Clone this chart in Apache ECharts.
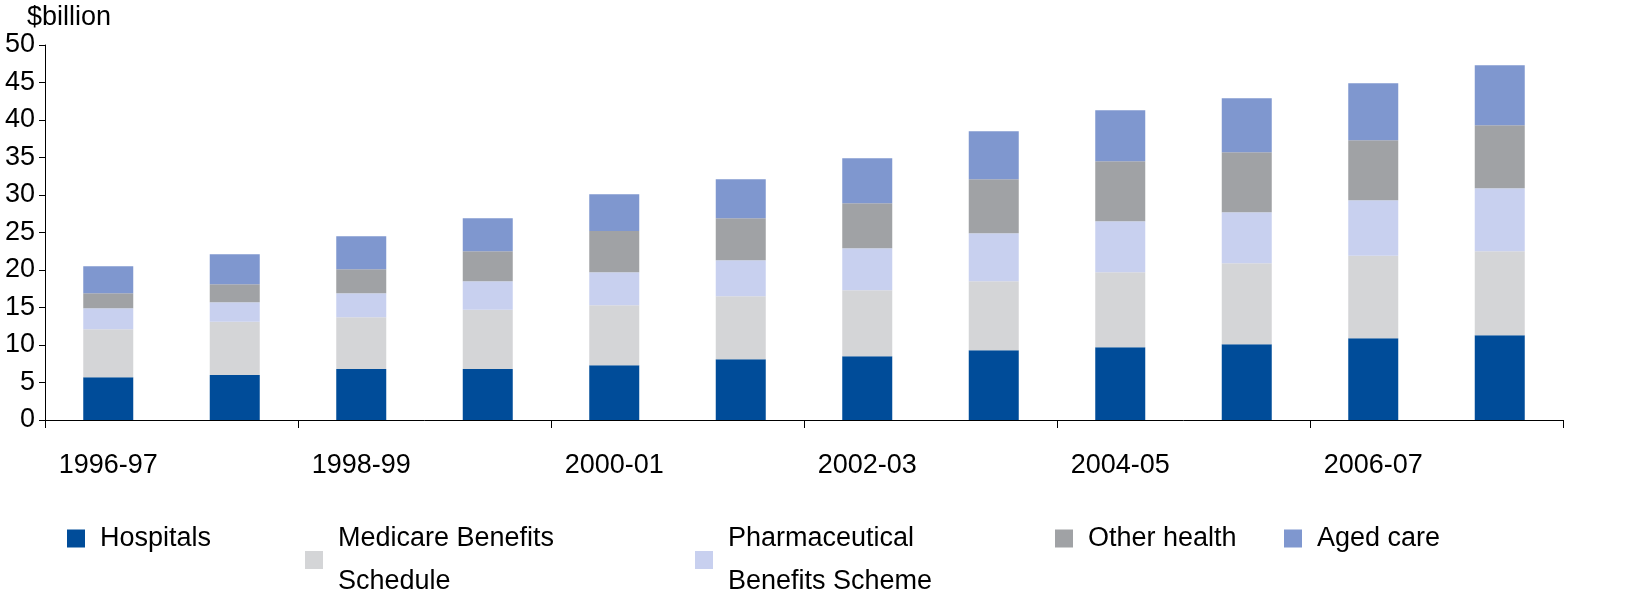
<!DOCTYPE html>
<html><head><meta charset="utf-8">
<script src="https://cdn.jsdelivr.net/npm/echarts@6/dist/echarts.min.js"></script>
<style>html,body{margin:0;background:#fff}#c{width:1627px;height:612px}</style>
</head><body><div id="c"></div>
<script>
const years = ["1996-97","1997-98","1998-99","1999-00","2000-01","2001-02","2002-03","2003-04","2004-05","2005-06","2006-07","2007-08"];
const hospitals = [5.7,6.0,6.8,6.8,7.3,8.1,8.5,9.3,9.7,10.1,10.9,11.3];
const medicare = [6.4,7.1,6.9,7.9,8.0,8.4,8.8,9.2,10.0,10.8,11.0,11.2];
const pharma = [2.8,2.6,3.2,3.8,4.4,4.8,5.6,6.4,6.8,6.8,7.4,8.4];
const otherHealth = [2.0,2.4,3.2,4.0,5.5,5.6,6.0,7.2,8.0,8.0,8.0,8.4];
const agedCare = [3.6,4.0,4.4,4.4,4.9,5.2,6.0,6.4,6.8,7.2,7.6,8.0];
const yTicks = [0,5,10,15,20,25,30,35,40,45,50];

const font = {fontFamily: "Liberation Sans, Arial, sans-serif", fontSize: 27, color: "#000"};
const names = ["Hospitals","Medicare Benefits\nSchedule","Pharmaceutical\nBenefits Scheme","Other health","Aged care"];
const colors = ["#004c99","#d4d5d7","#c8d0ef","#a0a2a5","#7f97cf"];
const values = [hospitals, medicare, pharma, otherHealth, agedCare];
const legendX = [62, 300, 690, 1050, 1279];

const chart = echarts.init(document.getElementById("c"));
chart.setOption({
  animation: false,
  color: colors,
  grid: {left: 45, right: 64, top: 45, bottom: 192},
  legend: names.map((n, i) => ({
    data: [n], left: legendX[i], top: 512, itemWidth: 18, itemHeight: 18, icon: "rect",
    textStyle: Object.assign({}, font, {lineHeight: 43, padding: [0, 0, 0, 10]}), itemGap: 0
  })),
  xAxis: {
    type: "category", data: years,
    axisLine: {lineStyle: {color: "#000"}},
    axisTick: {show: true, length: 8, lineStyle: {color: "#000"}},
    axisLabel: Object.assign({}, font, {margin: 32})
  },
  yAxis: {
    type: "value", min: 0, max: 50, interval: 5,
    name: "$billion", nameLocation: "end", nameGap: 14,
    nameTextStyle: Object.assign({}, font, {align: "left", padding: [0, 0, 0, -18]}),
    axisLine: {show: true, lineStyle: {color: "#000"}},
    axisTick: {show: true, length: 6, lineStyle: {color: "#000"}},
    splitLine: {show: false},
    axisLabel: Object.assign({}, font, {margin: 10, formatter: v => yTicks.includes(v) ? v : ""})
  },
  series: values.map((d, i) => ({
    name: names[i], type: "bar", stack: "t", data: d, barWidth: 50
  }))
});
</script></body></html>
